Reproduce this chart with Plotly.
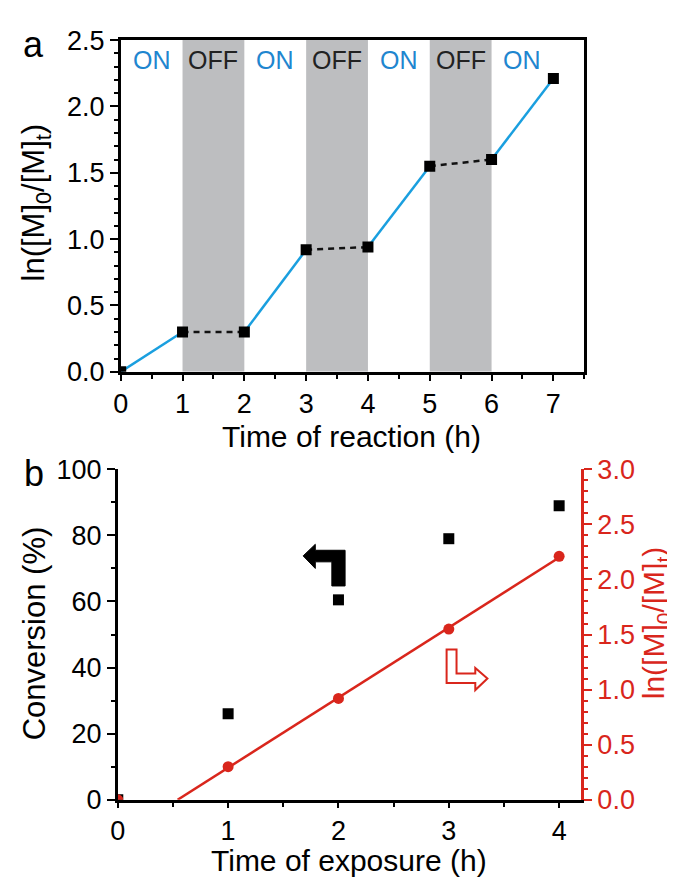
import numpy as np
import plotly.graph_objects as go

# ---------------- data ----------------
time_a = [0, 1, 2, 3, 4, 5, 6, 7]
ln_a = [0.0, 0.30, 0.30, 0.92, 0.94, 1.55, 1.60, 2.21]
phases = ["ON", "OFF", "ON", "OFF", "ON", "OFF", "ON"]

time_b = [0, 1, 2, 3, 4]
conv_b = [0.0, 26.0, 60.5, 79.0, 89.0]
ln_b = [0.0, 0.30, 0.92, 1.55, 2.21]

xa_ticks = [0, 1, 2, 3, 4, 5, 6, 7]
ya_ticks = [0.0, 0.5, 1.0, 1.5, 2.0, 2.5]
xb_ticks = [0, 1, 2, 3, 4]
yb_ticks = [0, 20, 40, 60, 80, 100]
yb2_ticks = [0.0, 0.5, 1.0, 1.5, 2.0, 2.5, 3.0]

# ---------------- style ----------------
FONT = "Liberation Sans, Arial, Helvetica, sans-serif"
BLUE_LINE = "#1a9fdf"
BLUE_TXT = "#1f86cf"
GREY = "#bdbec0"
RED = "#d9261c"
BLACK = "#000000"
TICK_SIZE = 27
TITLE_SIZE = 31
TICKF = dict(family=FONT, size=TICK_SIZE, color=BLACK)

fig = go.Figure()

# ---- panel a: grey OFF bands
for i, ph in enumerate(phases):
    if ph == "OFF":
        fig.add_shape(type="rect", xref="x", yref="y", x0=time_a[i], x1=time_a[i + 1],
                      y0=0, y1=2.5, fillcolor=GREY, line_width=0, layer="below")

# ---- panel a: segments
for i, ph in enumerate(phases):
    seg_x = [time_a[i], time_a[i + 1]]
    seg_y = [ln_a[i], ln_a[i + 1]]
    if ph == "ON":
        fig.add_trace(go.Scatter(x=seg_x, y=seg_y, mode="lines", xaxis="x", yaxis="y",
                                 line=dict(color=BLUE_LINE, width=2.5), showlegend=False))
    else:
        fig.add_trace(go.Scatter(x=seg_x, y=seg_y, mode="lines", xaxis="x", yaxis="y",
                                 line=dict(color="#111111", width=2.5, dash="6px,5px"),
                                 showlegend=False))

fig.add_trace(go.Scatter(x=time_a, y=ln_a, mode="markers", xaxis="x", yaxis="y",
                         marker=dict(symbol="square", size=11, color=BLACK),
                         showlegend=False, cliponaxis=True))

# ON / OFF labels
for i, ph in enumerate(phases):
    fig.add_annotation(x=(time_a[i] + time_a[i + 1]) / 2, y=2.35, xref="x", yref="y",
                       text=ph, showarrow=False,
                       font=dict(family=FONT, size=25, color=BLUE_TXT if ph == "ON" else "#222222"))

# ---- panel b
fig.add_trace(go.Scatter(x=time_b, y=conv_b, mode="markers", xaxis="x3", yaxis="y3",
                         marker=dict(symbol="square", size=11, color=BLACK),
                         showlegend=False, cliponaxis=True))

slope, intercept = np.polyfit(time_b[1:], ln_b[1:], 1)
x_start = -intercept / slope
fit_x = [x_start, time_b[-1]]
fit_y = [slope * v + intercept for v in fit_x]
fig.add_trace(go.Scatter(x=fit_x, y=fit_y, mode="lines", xaxis="x3", yaxis="y4",
                         line=dict(color=RED, width=2.5), showlegend=False))
fig.add_trace(go.Scatter(x=time_b, y=ln_b, mode="markers", xaxis="x3", yaxis="y4",
                         marker=dict(symbol="circle", size=11, color=RED),
                         showlegend=False, cliponaxis=True))

# arrows (decorative)
black_arrow = ("M 1.68,73.8 L 1.79,77.3 L 1.79,75.5 L 2.06,75.5 L 2.06,64.7 "
               "L 1.94,64.7 L 1.94,72.0 L 1.79,72.0 L 1.79,70.0 Z")
fig.add_shape(type="path", path=black_arrow, xref="x3", yref="y3",
              fillcolor=BLACK, line=dict(color=BLACK, width=1))
red_arrow = ("M 2.98,45.5 L 3.07,45.5 L 3.07,38.2 L 3.24,38.2 L 3.24,39.9 L 3.35,36.7 "
             "L 3.24,33.2 L 3.24,35.3 L 2.98,35.3 Z")
fig.add_shape(type="path", path=red_arrow, xref="x3", yref="y3",
              fillcolor="white", line=dict(color=RED, width=2))

# ---------------- axes ----------------
def lin_axis(**kw):
    base = dict(showgrid=False, zeroline=False, showline=True, linewidth=2.5,
                linecolor=BLACK, ticks="outside", ticklen=8, tickwidth=2,
                tickcolor=BLACK, tickfont=TICKF)
    base.update(kw)
    return base

fig.update_layout(
    width=675, height=885,
    margin=dict(l=0, r=0, t=0, b=0),
    plot_bgcolor="white", paper_bgcolor="white",
    font=dict(family=FONT),
    xaxis=lin_axis(domain=[0.157, 0.852], anchor="y", range=[0, 7.5],
                   tickvals=xa_ticks, mirror=True, ticklen=6,
                   minor=dict(dtick=0.5, tick0=0, ticks="outside", ticklen=4,
                              tickwidth=2, tickcolor=BLACK)),
    yaxis=lin_axis(domain=[0.592, 0.98], anchor="x", range=[0, 2.5],
                   tickvals=ya_ticks, tickformat=".1f", mirror=True,
                   minor=dict(dtick=0.1, tick0=0, ticks="outside", ticklen=4,
                              tickwidth=2, tickcolor=BLACK)),
    xaxis3=lin_axis(domain=[0.1526, 0.8474], anchor="y3", range=[0, 4.2],
                    tickvals=xb_ticks, ticklen=5,
                    minor=dict(dtick=0.5, tick0=0, ticks="outside", ticklen=4,
                               tickwidth=2, tickcolor=BLACK)),
    xaxis4=lin_axis(overlaying="x3", anchor="y3", side="top", range=[0, 4.2],
                    tickvals=[0.5 * k for k in range(1, 9)], ticks="inside",
                    ticklen=5, showticklabels=False),
    yaxis3=lin_axis(domain=[0.0915, 0.478], anchor="x3", range=[0, 100],
                    tickvals=yb_ticks,
                    minor=dict(dtick=10, tick0=0, ticks="outside", ticklen=4,
                               tickwidth=2, tickcolor=BLACK)),
    yaxis4=lin_axis(overlaying="y3", anchor="x3", side="right", range=[0, 3.0],
                    tickvals=yb2_ticks, tickformat=".1f", linecolor=RED, tickcolor=RED,
                    tickfont=dict(family=FONT, size=TICK_SIZE, color=RED),
                    minor=dict(dtick=0.1, tick0=0, ticks="outside", ticklen=4,
                               tickwidth=2, tickcolor=RED)),
)

# ---------------- titles / labels ----------------
def ann(text, x, y, size=TITLE_SIZE, color=BLACK, angle=0):
    fig.add_annotation(x=x, y=y, xref="paper", yref="paper", text=text, showarrow=False,
                       textangle=angle, xanchor="center", yanchor="middle",
                       font=dict(family=FONT, size=size, color=color))

ann("a", 18 / 675, 1 - 22 / 885, size=36)
ann("b", 18 / 675, 1 - 466 / 885, size=36)
ann("Time of reaction (h)", 340 / 675, 1 - 428 / 885, size=30)
ann("ln([M]<sub>0</sub>/[M]<sub>t</sub>)", 20 / 675, 1 - 186 / 885, angle=-90)
ann("Time of exposure (h)", 337 / 675, 1 - 867 / 885, size=30)
ann("Conversion (%)", 19 / 675, 1 - 632 / 885, angle=-90)
ann("ln([M]<sub>0</sub>/[M]<sub>t</sub>)", 648 / 675, 1 - 621 / 885, size=30,
    color=RED, angle=-90)

fig.write_html("out.html")
